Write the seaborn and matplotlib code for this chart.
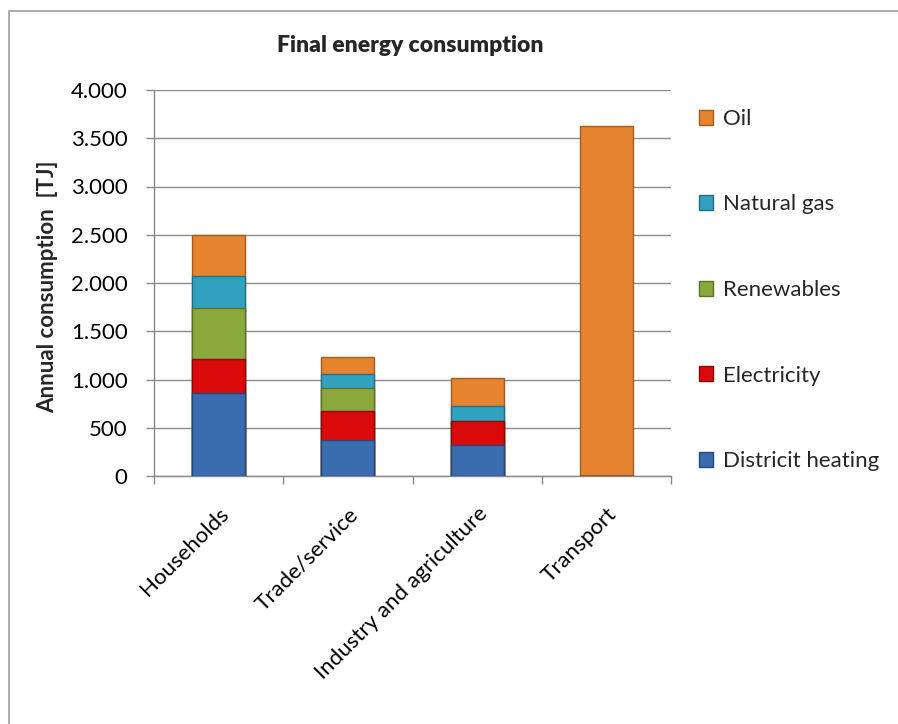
import matplotlib
matplotlib.use("Agg")
import matplotlib.pyplot as plt
from matplotlib.patches import Rectangle, Patch
import seaborn as sns
import numpy as np
import pandas as pd

categories = ["Households", "Trade/service", "Industry and agriculture", "Transport"]
district_heating = [865, 375, 320, 0]
electricity = [345, 300, 255, 0]
renewables = [535, 235, 0, 0]
natural_gas = [330, 145, 150, 0]
oil = [425, 180, 295, 3630]
series_names = ["Districit heating", "Electricity", "Renewables", "Natural gas", "Oil"]
colors = ["#3A6CB0", "#DA0A0A", "#8BA83C", "#31A1C0", "#E5832E"]
edge_colors = ["#24487A", "#8E0606", "#5C7226", "#1E6F86", "#A65A1C"]
ytick_vals = [0, 500, 1000, 1500, 2000, 2500, 3000, 3500, 4000]
ytick_labels = ["0", "500", "1.000", "1.500", "2.000", "2.500", "3.000", "3.500", "4.000"]

sns.set_theme(style="white")
plt.rcParams["font.family"] = ["Lato", "DejaVu Sans"]

fig = plt.figure(figsize=(8.98, 7.24), dpi=100)
ax = fig.add_axes([154 / 898, 1 - 476 / 724, (671 - 154) / 898, (476 - 90) / 724])

series = [district_heating, electricity, renewables, natural_gas, oil]
cum = np.cumsum(np.array(series, dtype=float), axis=0)
df = pd.DataFrame({"category": categories})
for i in range(len(series) - 1, -1, -1):
    df["v"] = cum[i]
    sns.barplot(data=df, x="category", y="v", color=colors[i], ax=ax, width=0.41,
                edgecolor=edge_colors[i], linewidth=1.0, saturation=1, zorder=3)

ax.set_xlim(-0.5, 3.5)
ax.set_ylim(0, 4000)
ax.set_yticks(ytick_vals)
ax.set_yticklabels(ytick_labels, fontsize=16, color="#000000")
ax.set_xticks(range(len(categories)))
ax.set_xticklabels(categories, rotation=45, ha="right", va="top", rotation_mode="anchor",
                   fontsize=16, color="#000000")
ax.set_xticks(np.arange(-0.5, 4.0, 1.0), minor=True)
ax.tick_params(axis="x", which="major", length=0, pad=20)
ax.tick_params(axis="x", which="minor", length=6, color="#888888", width=1, direction="out", bottom=True)
ax.tick_params(axis="y", which="major", length=6, color="#888888", width=1, direction="out", left=True, pad=13)
ax.grid(axis="y", color="#8C8C8C", linewidth=1, zorder=0)
ax.set_axisbelow(True)
for s in ["top", "right"]:
    ax.spines[s].set_visible(False)
for s in ["left", "bottom"]:
    ax.spines[s].set_color("#888888")
    ax.spines[s].set_linewidth(1)
ax.set_xlabel("")
ax.set_ylabel("Annual consumption  [TJ]", fontsize=16, fontweight="bold")
ax.yaxis.set_label_coords((58 - 154) / 517, 0.49)

fig.text(410 / 898, 1 - 45 / 724, "Final energy consumption", ha="center", va="center",
         fontsize=16.5, fontweight="heavy")

handles = [Patch(facecolor=colors[i], edgecolor=edge_colors[i], label=series_names[i])
           for i in range(len(series) - 1, -1, -1)]
fig.legend(handles=handles, loc="upper left", bbox_to_anchor=(690 / 898, 1 - 100 / 724),
           frameon=False, fontsize=16, handlelength=0.65, handleheight=0.65,
           handletextpad=0.45, labelspacing=2.95, borderaxespad=0)

fig.patches.append(Rectangle((9 / 898, -0.05), 1.2, 1.05 - 11 / 724, transform=fig.transFigure,
                             fill=False, edgecolor="#A0A0A0", linewidth=1.2))

fig.savefig("out.png", dpi=100, facecolor="white")
